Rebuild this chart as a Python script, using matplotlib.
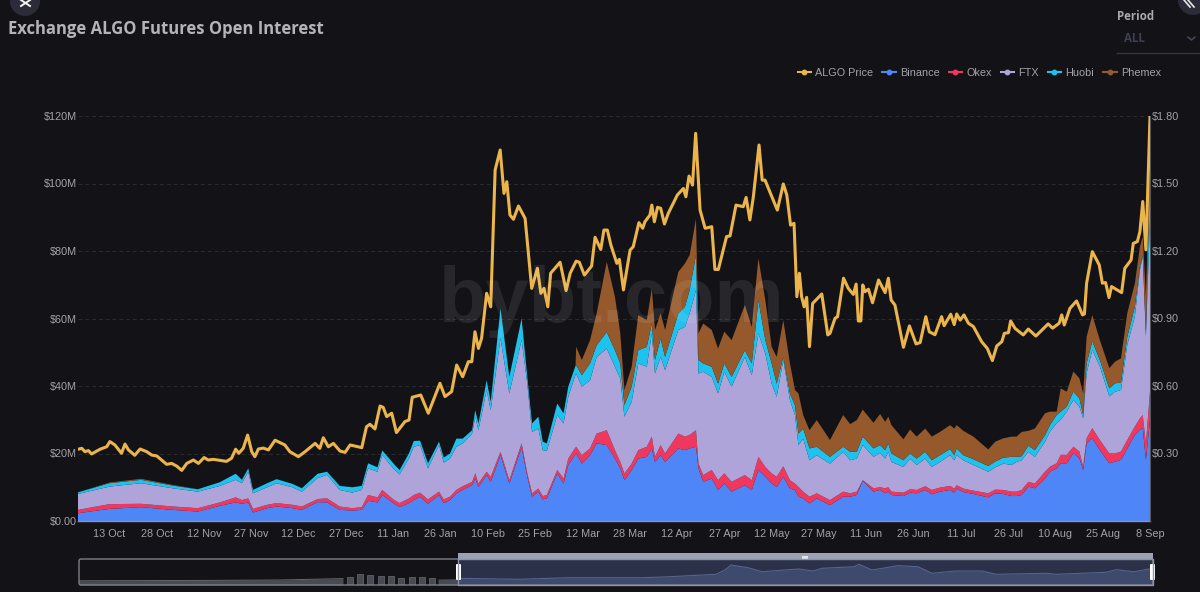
import numpy as np
import matplotlib
matplotlib.use("Agg")
import matplotlib.pyplot as plt
from matplotlib.lines import Line2D
from matplotlib.patches import Circle, FancyBboxPatch, Rectangle

W, H = 1200, 592
BG = "#131317"
C_PRICE, C_BIN, C_OKEX, C_FTX, C_HUOBI, C_PHEMEX = "#ebb54b", "#4f86f7", "#f0385f", "#aea4da", "#1fc1ee", "#95592b"
TXT = "#a3a3a6"

title = "Exchange ALGO Futures Open Interest"
tick_days = [10 + 15 * i for i in range(23)]
tick_labels = ["13 Oct", "28 Oct", "12 Nov", "27 Nov", "12 Dec", "27 Dec", "11 Jan", "26 Jan", "10 Feb", "25 Feb",
               "12 Mar", "28 Mar", "12 Apr", "27 Apr", "12 May", "27 May", "11 Jun", "26 Jun", "11 Jul", "26 Jul",
               "10 Aug", "25 Aug", "8 Sep"]
left_ticks = [0, 20, 40, 60, 80, 100, 120]
left_labels = ["$0.00", "$20M", "$40M", "$60M", "$80M", "$100M", "$120M"]
right_ticks = [0.30, 0.60, 0.90, 1.20, 1.50, 1.80]
right_labels = ["$0.30", "$0.60", "$0.90", "$1.20", "$1.50", "$1.80"]

oi_days = [0,10,20,30,38,45,50,52,54,55.5,
 60,63,68,71,76,79,83,87,90,92,
 95,96.5,100,102,105,106.5,108.5,111,114.5,116,
 118,120,122,125,126,127,129.6,130.9,134,136.8,
 140.7,142.5,144,146,147.4,148.7,152,154,155.5,157.8,
 158,159.8,162.4,164.5,167.7,170.3,172,173.3,175.6,177.7,
 180.4,182,183,184.8,186.2,190.4,192.5,194,196,196.8,
 198.3,201,203,205,207.3,211.5,213.7,215.8,218,220,
 221.6,223.7,225.8,227.4,228.5,230,232,234.3,238.5,242.7,
 244.9,247,248.9,252.3,254.4,256,257,258,261.8,263.9,
 266,268.7,270.8,273.4,276.6,277.9,278.7,280.8,284,288.7,
 290.9,293.5,296.1,297.7,299.3,301.4,303.5,306.7,308.3,310.4,
 311.7,313.6,315.7,317.6,318.8,319.9,321.7,324.1,327.1,328.9,
 330.8,332.8,335.2,336.8,337.7,338.7,340]

# Top of each stacked layer, in $M
binance = [2.3,3.6,4.1,3.3,2.8,4.5,5.5,5.1,5.5,2.5,
 3.8,4.3,3.8,3.3,5.6,5.5,3.3,3.1,3.3,6.0,
 5.5,7.7,5.3,4.1,5.3,6.2,7.2,5.1,7.7,5.3,
 6.2,8.2,9.2,10.6,12.6,10.1,13.6,11.6,19.5,11.1,
 21.8,13.1,7.2,8.7,6.4,6.7,14.1,11.1,16.6,19.8,
 20,17,19.5,23,22.5,18.5,15.6,12.1,15.1,18.5,
 19,21.5,17.5,19.5,17.5,21.5,21,21.5,22,15.6,
 11.6,12.6,9.2,11.1,8.7,10.6,9.2,15.1,13.1,11.1,
 10.1,13.1,9.6,9.2,7.2,6.7,5.2,6.7,4.7,7.2,
 7.2,7.7,11.9,8.7,9.2,8.2,8.7,7.7,7.4,8.4,
 8.2,9.2,7.9,8.7,9.2,8.4,9.6,8.6,8,7,
 8.2,8,7.4,7.4,7.7,10.2,9.7,12.6,14.6,15.6,
 17.1,17.1,20.1,18.6,15.1,23,24.5,21,17.1,17.6,
 18.1,21.5,25.5,27,27.5,18.1,30]
okex_top = [3.3,5,5.1,4.3,3.8,5.5,7,6.2,6.7,3.6,
 4.8,5.3,4.8,4.3,6.5,6.7,4.3,3.8,4.1,7.7,
 7,9.2,6.4,5.3,6.7,7.7,8.4,6.4,8.7,6.4,
 7.2,9.2,10.3,11.6,14.1,11.1,14.6,13.1,20.5,12.1,
 23,14.1,8.2,9.6,7.4,7.7,15.1,12.6,18.5,21.8,
 22,19.5,21.5,25.9,26.9,21,17.5,14.1,17,21,
 22,25,19,22.5,20,25.9,25,25.5,26.9,17,
 13.6,15.1,12.1,14.1,11.6,13.6,12.1,19,16,14.1,
 13.1,16.2,12.1,11.1,10.1,8.7,7.2,8.2,6.2,8.7,
 8.2,8.7,12.1,9.7,10,9.7,10,8.7,8.4,9.4,
 9.2,10.3,9.2,9.9,10.4,9.6,10.6,9.6,9,8.2,
 9.3,9.2,8.7,8.7,9.2,11.6,11.1,14.6,16.1,17.1,
 19.6,19.6,22,20.6,16.1,24.5,27.5,24,20,20,
 20.6,24,28,30.4,31.4,23,38.3]
ftx_top = [8,10.2,11.2,9.7,8.7,10.4,12.2,11.2,14.6,8.2,
 10,11.2,10,8.7,12.7,13.7,9.2,8.4,9.2,15.6,
 14.6,19.6,15.6,13.8,18.6,22,22.5,15.6,22.5,17.3,
 18.5,22,23,25.9,30.9,26.9,38.8,32.8,54.1,37.8,
 53.6,40.7,26.4,27.4,21,20.8,31.4,28.9,36.8,43.4,
 43.7,39.8,41.7,48.6,51.1,45.7,42.2,30.9,35.3,46.7,
 45.7,55.6,43.7,48.6,44.7,56.6,57.5,61.5,68.4,43.7,
 44.2,42.7,37.8,44.2,39.8,48.6,43.2,55.6,49.6,40.7,
 36.8,47.7,35.8,31.4,22.5,24.4,18,19.5,17,20.5,
 18,18.5,22.5,19,20.2,18.5,20.5,17.5,16,18.5,
 16.6,18.5,16,17.5,19.5,18,19.5,18,16.6,14.6,
 15.9,17,16.6,17.5,18,20.5,19,23.5,26.5,29,
 30,32.4,35.9,33.9,30.4,43.8,50.7,45.8,36.9,38.3,
 38.8,52.2,60.6,74.4,78.3,54.6,89.2]
huobi_top = [8.5,11.2,12.2,10.5,9.4,11.5,14,12.2,15.6,9.2,
 11.2,12.4,11,9.7,14,14.6,10.4,10,10.4,17.1,
 15.9,20.9,17.1,15.1,20.1,23.7,23.8,17.1,23.5,18.8,
 20,24.4,24.4,26.9,32.8,28.9,41.7,35.3,63,42.7,
 60,42.7,28.9,30.9,23.5,23,34.8,31.9,39.8,46,
 46.2,43.2,46.7,52.1,56,50.6,46.7,34.3,39.8,50.6,
 51.6,58.5,47.7,54,48.6,61.5,63.5,68.4,78.8,47.7,
 46.7,45.7,40.7,46.7,42.7,50.6,46.7,65.4,53.6,46.7,
 40.7,48.6,37.8,34.3,25.9,27.4,21.5,22,19,22,
 20.5,20.5,25,21.5,22.5,21,23,20,18,20,
 18.5,20.5,18,19.5,21.3,19.5,21.5,19.5,18.3,16.3,
 17.6,18.8,19,19,19.2,22.3,21,25.4,28.5,31.4,
 32.4,33.9,38.3,36.4,31.4,46.7,53.2,47.7,39.3,40.8,
 41,54.6,63.5,75.4,78.8,55.6,103]
phemex_top = [8.5,11.4,12.5,10.7,9.4,11.5,14,12.2,15.6,9.2,
 11.2,12.4,11,9.7,14,14.6,10.4,10,10.4,17.1,
 15.9,20.9,17.1,15.1,20.1,23.7,23.8,17.1,23.5,18.8,
 20,24.4,24.4,26.9,32.8,28.9,41.7,35.3,63,42.7,
 60,42.7,28.9,30.9,23.5,23,34.8,31.9,39.8,46,
 51.6,47.7,53.6,61.5,76.8,66.4,55.6,38.8,45.7,61,
 59.5,68.9,56.6,61.5,56.6,73.8,76.3,78.8,89.6,55.6,
 58.5,56.6,51.1,56.1,53.6,64,57.5,77.8,65.4,51.6,
 48.6,59.5,46.7,38.8,37.8,31.4,26.9,29.9,24,31.4,
 28.7,29.9,33,29.1,31.7,29.4,30.9,28.4,24.2,27.1,
 25,27.4,25,26.4,28.4,27.4,28.4,26.7,25,21.2,
 23.5,24.5,25,25,26.4,26.7,27.4,31.9,32.4,32.4,
 39.3,38.3,44.3,42.3,37.8,54.6,61,53.6,45.3,47.2,
 48.2,61.6,70.4,81.3,84.3,66.5,106]

price_days = [0,1.2,2.2,3.3,4.3,7,9.1,10.1,11.7,13.8,14.9,16,18,19.7,21.8,23.4,25,28.1,29.7,31.3,32.9,34.5,36.6,38.2,40,41.3,42.9,47.1,48.7,50,51,52.4,53.8,55.1,56.1,57.2,58.8,60.4,62.5,65.6,67.2,69.9,72,75.2,76.7,77.8,79.4,81,83.1,84.7,86.3,90,91.5,92.6,94.2,95.8,96.8,97.9,99.5,101,103.7,105,106,108.7,111.1,114.8,116.4,118.5,
 120.1,122,123.8,124.9,125.9,127,128,129.6,130.9,132.3,133.9,135.1,136,137,138.1,139.7,141.8,143.9,145.7,146.8,147.8,149,149.9,152.9,154.8,156.1,158,159,160.6,162.9,164,165.8,166.8,167.9,169,170.9,171.7,173,175.1,176.1,177.9,179.1,179.8,181.4,182,182.8,183.8,184.8,186,187.2,190.1,192,192.8,193.8,194.9,195.9,197.3,198.9,201,202,203.1,205.7,206.8,208.7,211,211.9,213.1,214.2,216,217,217.9,221.8,223.7,224.8,226,227.1,228,228.8,229.5,230.3,231.1,232,233,235.9,237.8,238.5,240.1,240.9,
 242.8,244.3,245.9,246.8,247.5,248.3,248.9,249.6,250.7,252,253.9,256,257,257.9,259.1,261.8,263.7,265.8,267.1,268.9,270,271.8,273.9,274.7,276.8,277.9,278.7,279.8,281,282.4,284,286.6,288.4,290,291.4,293,293.8,295.1,295.8,297.2,299.8,301.4,303.8,307.7,
 309.1,311.2,312,312.8,314.6,316.7,318.6,319.2,319.9,321.7,323.9,324.9,325.9,327,327.8,331,332,334,334.7,336,336.8,337.7,338.7,340]
price = [.319,.323,.308,.313,.298,.319,.330,.353,.338,.301,.342,.316,.292,.320,.308,.293,.289,.252,.256,.244,.225,.256,.271,.256,.282,.271,.274,.265,.279,.319,.301,.323,.382,.308,.286,.320,.324,.316,.359,.338,.308,.286,.308,.345,.323,.370,.330,.345,.311,.305,.338,.326,.419,.430,.409,.511,.505,.464,.479,.393,.442,.449,.550,.560,.479,.612,.553,.575,
 .693,.641,.708,.708,.841,.767,.812,1.012,.952,1.560,1.649,1.456,1.508,1.360,1.341,1.400,1.345,1.034,1.123,1.012,1.034,.952,1.101,1.150,1.024,1.101,1.155,1.150,1.093,1.133,1.261,1.207,1.293,1.293,1.227,1.145,1.163,1.027,1.204,1.219,1.326,1.301,1.330,1.360,1.404,1.330,1.394,1.390,1.320,1.367,1.449,1.478,1.441,1.533,1.493,1.723,1.382,1.301,1.308,1.118,1.118,1.264,1.267,1.404,1.397,1.438,1.338,1.441,1.671,1.515,1.515,1.382,1.498,1.449,1.315,1.323,.997,1.101,.997,.952,.994,.775,.967,1.009,.827,.834,.901,.908,
 1.079,1.034,1.007,1.053,.889,.889,1.049,1.019,1.03,.97,1.071,1.015,1.079,.982,.96,.772,.867,.787,.793,.908,.841,.828,.908,.868,.919,.873,.92,.893,.916,.879,.864,.797,.767,.713,.778,.797,.834,.837,.889,.856,.827,.853,.822,.876,
 .857,.879,.916,.871,.945,.978,.916,.92,1.057,1.197,1.138,1.057,1.06,.993,1.042,1.015,1.123,1.16,1.234,1.242,1.286,1.42,1.205,1.794]

# Range-slider preview
nav_pos = [0,60,130,200,264]
nav_grey = [4.2,4.4,4.6,5,6.4]
nav_bar_pos = [271,281,291,302,312,322,333,343,353]
nav_bar_h = [8.3,10.7,10,9.3,9,7.3,8.3,7.7,7]
nav_tail_pos = [359,379]
nav_tail = [6,6.4]
nav_sel_pos = [379,440,490,564,591,637,646,652,669,683,720,734,743,775,780,793,819,839,853,876,903,917,968,977,1027,1037,1055,1074]
nav_sel = [6.7,5.7,7.3,7.3,8.3,10.7,15,20,17.3,13.3,16,14,16.7,18.3,20.7,15,19.3,18.3,11.7,14,14,10.7,11.7,10.7,12.7,15.3,13.3,16.7]

plt.rcParams["font.family"] = ["Liberation Sans", "DejaVu Sans"]
fig = plt.figure(figsize=(W / 100, H / 100), dpi=100, facecolor=BG)

def box(x0, y0, x1, y1):
    return [x0 / W, 1 - y1 / H, (x1 - x0) / W, (y1 - y0) / H]

ax = fig.add_axes(box(78, 116, 1150, 521), facecolor=BG)
tops = np.array([binance, okex_top, ftx_top, huobi_top, phemex_top])
layers = np.vstack([tops[0], np.diff(tops, axis=0)])
ax.stackplot(oi_days, layers, colors=[C_BIN, C_OKEX, C_FTX, C_HUOBI, C_PHEMEX], linewidth=0, zorder=2)
ax.set_xlim(0, 340)
ax.set_ylim(0, 120)
ax.set_yticks(left_ticks, left_labels)
ax.set_xticks(tick_days, tick_labels)
ax.grid(axis="y", color="#2b2b30", lw=0.7, ls=(0, (4, 3)), zorder=1)
ax.tick_params(axis="both", length=0, labelsize=7.8, labelcolor=TXT, pad=1)
ax.tick_params(axis="x", pad=5.5)
for s in ["top", "left", "right"]:
    ax.spines[s].set_visible(False)
ax.spines["bottom"].set_color("#8f94a6")
ax.spines["bottom"].set_linewidth(1.0)

ax2 = ax.twinx()
ax2.plot(price_days, price, color=C_PRICE, lw=2.2, solid_joinstyle="round", zorder=5)
ax2.set_ylim(0, 1.80)
ax2.set_yticks(right_ticks, right_labels)
ax2.tick_params(axis="y", length=0, labelsize=7.8, labelcolor=TXT, pad=1.5)
for s in ["top", "left", "bottom"]:
    ax2.spines[s].set_visible(False)
ax2.spines["right"].set_color("#55565c")
ax2.spines["right"].set_linewidth(0.8)

# Watermark
fig.text(612 / W, 1 - 302 / H, "bybt.com", color="#ffffff", alpha=0.085, fontsize=56, fontweight="bold",
         family=["Liberation Sans"], ha="center", va="center", zorder=3)

# Title
fig.text(8 / W, 1 - 29 / H, title, color="#b4b4b7", fontsize=11.95, fontweight="bold",
         family=["Open Sans", "DejaVu Sans"], ha="left", va="center")

# Legend
names = ["ALGO Price", "Binance", "Okex", "FTX", "Huobi", "Phemex"]
cols = [C_PRICE, C_BIN, C_OKEX, C_FTX, C_HUOBI, C_PHEMEX]
handles = [Line2D([], [], color=c, lw=1.5, marker="o", ms=3.2) for c in cols]
leg = fig.legend(handles, names, ncol=6, loc="center right", bbox_to_anchor=(1161 / W, 1 - 73 / H), frameon=False,
                 fontsize=7.8, labelcolor=TXT, handlelength=1.25, handletextpad=0.4, columnspacing=0.8,
                 borderpad=0, borderaxespad=0)

# Range slider preview
nav = fig.add_axes(box(79, 559, 1153, 585), facecolor="none")
nav.set_xlim(0, 1074)
nav.set_ylim(0, 26)
nav.axis("off")
nav.fill_between(nav_pos, nav_grey, color="#4a4b52", lw=0)
nav.plot(nav_pos, nav_grey, color="#66676e", lw=0.7)
nav.bar(nav_bar_pos, nav_bar_h, width=6.5, color="#4a4b52", edgecolor="#6b6c73", lw=0.5)
nav.fill_between(nav_tail_pos, nav_tail, color="#4a4b52", lw=0)
nav.axvspan(379, 1074, color="#2b3148", lw=0, zorder=0)
nav.fill_between(nav_sel_pos, nav_sel, color="#3d4a6e", lw=0, zorder=1)
nav.plot(nav_sel_pos, nav_sel, color="#56648c", lw=0.8, zorder=2)

# Interface furniture in pixel coordinates
ui = fig.add_axes([0, 0, 1, 1], facecolor="none")
ui.set_xlim(0, W)
ui.set_ylim(H, 0)
ui.axis("off")
ui.add_patch(FancyBboxPatch((79, 559), 1074, 26, boxstyle="round,pad=0,rounding_size=2", fc="none", ec="#7d7f88", lw=1.0))
ui.add_patch(Rectangle((458, 553), 695, 6, fc="#9ba2b4", ec="none"))
ui.add_patch(Rectangle((802, 556), 6, 2.5, fc="#e4e6ec", ec="none"))
ui.plot([458, 1153, 1153, 458, 458], [559, 559, 585, 585, 559], color="#8e94a6", lw=1)
for xc in (458.5, 1152.5):
    ui.add_patch(FancyBboxPatch((xc - 2.5, 564), 5, 16, boxstyle="round,pad=0,rounding_size=1", fc="#ffffff", ec="none"))

ui.add_patch(Circle((25, 1), 15, fc="#2b2b3a", ec="none"))
ui.plot([21, 30], [0, 6], color="#f4f4f4", lw=1.4)
ui.plot([30, 21], [0, 6], color="#f4f4f4", lw=1.4)
ui.add_patch(Circle((1193, 0), 15, fc="#2b2b3a", ec="none"))
ui.plot([1184, 1190], [0, 7], color="#e8e8e8", lw=1.2)
ui.plot([1188, 1194], [0, 7], color="#e8e8e8", lw=1.2)
ui.text(1117, 16, "Period", color="#a9a9ad", fontsize=8.3, fontweight="bold", family=["Open Sans"], va="center")
ui.text(1124, 38, "ALL", color="#3d4052", fontsize=8.3, fontweight="bold", family=["Open Sans"], va="center")
ui.plot([1188, 1191.5, 1195], [37, 40, 37], color="#45485a", lw=1.1)
ui.plot([1117, 1200], [53, 53], color="#33353f", lw=1)

fig.savefig("out.png", dpi=100, facecolor=BG)
